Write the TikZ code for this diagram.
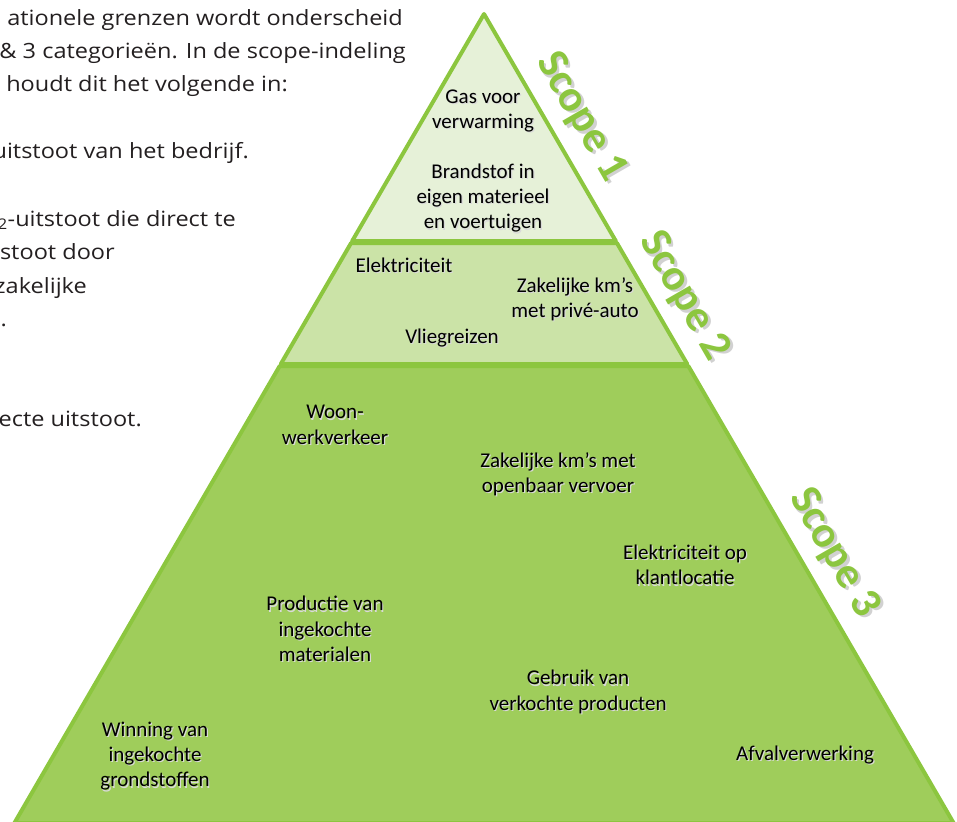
\documentclass[tikz,border=0pt]{standalone}
\usepackage{fontspec}
\setmainfont{Carlito}
\newfontfamily\parafont[FakeStretch = 1.12]{Open Sans}
\usepackage{xcolor}
\usepackage{tikz}

\definecolor{edgegreen}{HTML}{8CC63F}
\definecolor{bandone}{HTML}{E6F1D8}
\definecolor{bandtwo}{HTML}{CBE3A7}
\definecolor{bandthree}{HTML}{9FCD5B}
\definecolor{inkblack}{HTML}{231F20}

\begin{document}
\begin{tikzpicture} [x = 1pt, y = -1pt,
					band/.style = {draw = edgegreen,
					    line width = 4pt,
					    line join = round},
					lbl/.style = {align = center,
					    inner sep = 0pt,
					    text = black,
					    font = \fontsize{21}{25.4}\selectfont},
					lblshadow/.style = {lbl, text = black!15},
					scopelbl/.style = {inner sep = 0pt,
					    rotate = -60,
					    text = edgegreen,
					    font = \fontsize{44}{50}\selectfont\bfseries},
					scopeshadow/.style = {scopelbl, text = black!18},
					para/.style = {inner sep = 0pt,
					    anchor = base east,
					    text = inkblack,
					    font = \parafont\fontsize{21}{33}\selectfont}]

					\clip (0,0) rectangle (957,821);

					% the cut-off paragraph on the left
					\node (p1) [para] at (403,26) {ationele grenzen wordt onderscheid};
					\node (p2) [para] at (406,59) {\& 3 categorieën. In de scope-indeling};
					\node (p3) [para] at (288,92) {houdt dit het volgende in:};
					\node (p4) [para] at (249,159) {uitstoot van het bedrijf.};
					\node (p5) [para] at (236,226) {\textsubscript{2}-uitstoot die direct te};
					\node (p6) [para] at (115,259) {stoot door};
					\node (p7) [para] at (87,293) {zakelijke};
					\node (p8) [para] at (7,326) {.};
					\node (p9) [para] at (142,426) {ecte uitstoot.};

					% pyramid bands
					\draw [band, fill = bandthree] (279.7,366) -- (688.3,366) -- (953.6,823) -- (14.4,823) -- cycle;
					\draw [band, fill = bandtwo] (351.1,243) -- (616.9,243) -- (687.2,364) -- (280.8,364) -- cycle;
					\draw [band, fill = bandone] (484,14) -- (615.8,241) -- (352.2,241) -- cycle;

					% scope labels
					\foreach \i/\x/\y in {1/581/117, 2/684/296, 3/834/553} {
						\node [scopeshadow] at (\x+2.5,\y+2.5) {Scope \i};
						\node (scope\i) [scopelbl] at (\x,\y) {Scope \i};
					}

					% emission sources
					\foreach \nm/\x/\y/\txt in {
						gas/483/111/{Gas voor\\verwarming},
						fuel/483/198/{Brandstof in\\eigen materieel\\en voertuigen},
						elec/404/265/{Elektriciteit},
						carkm/575/299/{Zakelijke km’s\\met privé-auto},
						flight/452/338/{Vliegreizen},
						commute/335/425/{Woon-\\werkverkeer},
						ovkm/558/474/{Zakelijke km’s met\\openbaar vervoer},
						clientelec/685/565/{Elektriciteit op\\klantlocatie},
						prod/325/629/{Productie van\\ingekochte\\materialen},
						use/578/692/{Gebruik van\\verkochte producten},
						mining/155/756/{Winning van\\ingekochte\\grondstoffen},
						waste/805/755/{Afvalverwerking}} {
						\node [lblshadow] at (\x+1.2,\y+1.2) {\txt};
						\node (\nm) [lbl] at (\x,\y) {\txt};
					}
				\end{tikzpicture}
\end{document}
